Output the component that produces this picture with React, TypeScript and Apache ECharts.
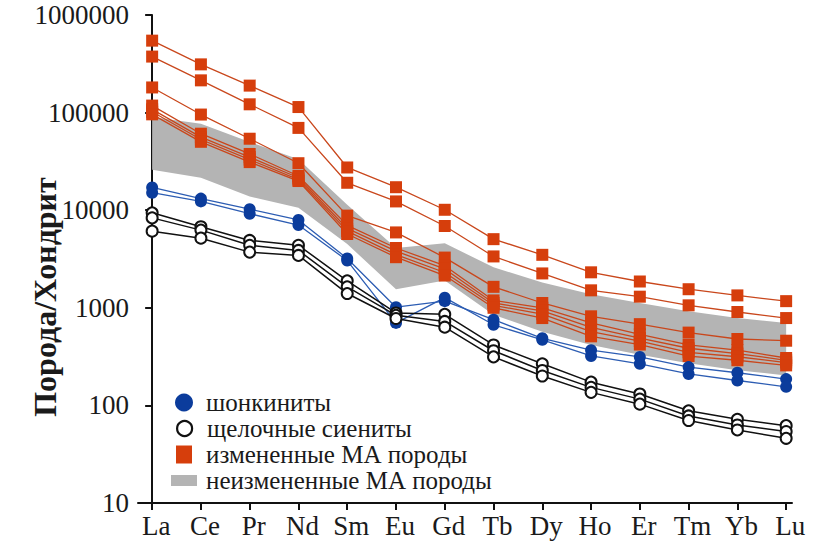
import React, { useEffect, useRef } from 'react';
import * as echarts from 'echarts';

const elements = ['La', 'Ce', 'Pr', 'Nd', 'Sm', 'Eu', 'Gd', 'Tb', 'Dy', 'Ho', 'Er', 'Tm', 'Yb', 'Lu'];
const yTicks = [10, 100, 1000, 10000, 100000, 1000000];

// шонкиниты
const shonk1 = [17100, 13150, 10250, 7940, 3200, 1015, 1170, 755, 487, 368, 314, 247, 216, 186];
const shonk2 = [15100, 12300, 9200, 7050, 3050, 700, 1270, 670, 470, 321, 267, 210, 180, 155];

// щелочные сиениты
const syen1 = [9400, 6770, 4900, 4370, 1890, 885, 857, 416, 267, 173, 131, 88, 72, 62];
const syen2 = [8340, 6250, 4370, 3870, 1640, 837, 725, 363, 228, 153, 116, 78, 63, 54];
const syen3 = [6100, 5170, 3720, 3440, 1400, 777, 633, 314, 200, 136, 103, 70, 56, 46];

// измененные МА породы
const alt1 = [546000, 312000, 189000, 114000, 27400, 17200, 10100, 5050, 3490, 2310, 1860, 1550, 1340, 1170];
const alt2 = [375000, 214000, 121600, 69700, 19100, 12300, 6890, 3360, 2250, 1510, 1300, 1060, 906, 785];
const alt3 = [181000, 95500, 54000, 30300, 8800, 5920, 3270, 1640, 1120, 818, 680, 557, 479, 460];
const alt4 = [118000, 60800, 37700, 22400, 7000, 4100, 2700, 1190, 1000, 700, 535, 416, 368, 306];
const alt5 = [108000, 56000, 35000, 21500, 6500, 3800, 2500, 1120, 930, 630, 490, 385, 340, 290];
const alt6 = [102000, 53000, 33000, 20600, 6100, 3500, 2300, 1060, 860, 570, 455, 350, 315, 275];
const alt7 = [96000, 50200, 31100, 19900, 5700, 3300, 2140, 1000, 785, 510, 420, 320, 290, 257];

// неизмененные МА породы (field)
const unaltUpper = [90000, 77000, 50000, 33300, 11400, 4100, 4580, 2600, 1820, 1380, 1120, 923, 785, 697];
const unaltLower = [26000, 21500, 13800, 10600, 4500, 1550, 1900, 850, 570, 415, 330, 270, 229, 203];

const NAME_SHONK = 'шонкиниты';
const NAME_SYEN = 'щелочные сиениты';
const NAME_ALT = 'измененные МА породы';
const NAME_UNALT = 'неизмененные МА породы';

const BLUE = '#0b3c9c';
const BLUE_LINE = '#2d5db3';
const RED = '#d63e0c';
const RED_LINE = '#c9471c';
const GRAY = '#b4b4b4';
const FONT = 'Liberation Serif';

const toData = (vals: number[]) => vals.map((v, i) => [i, v]);

function lineSeries(name: string, vals: number[], kind: 'blue' | 'black' | 'red') {
  const base: any = {
    name,
    type: 'line',
    data: toData(vals),
    symbolSize: 12,
    z: 3,
  };
  if (kind === 'blue') {
    base.symbol = 'circle';
    base.itemStyle = { color: BLUE };
    base.lineStyle = { color: BLUE_LINE, width: 1.3 };
  } else if (kind === 'black') {
    base.symbol = 'circle';
    base.symbolSize = 11;
    base.itemStyle = { color: '#ffffff', borderColor: '#111111', borderWidth: 2 };
    base.lineStyle = { color: '#111111', width: 1.5 };
  } else {
    base.symbol = 'rect';
    base.itemStyle = { color: RED };
    base.lineStyle = { color: RED_LINE, width: 1.3 };
    base.z = 2;
  }
  return base;
}

const idx = elements.map((_, i) => i);

const textBase = { fontFamily: FONT, fontSize: 27, color: '#1a1a1a' };

function legendItem(name: string, icon: string, itemStyle: any, left: number, top: number, w: number, h: number, padLeft: number) {
  return {
    data: [{ name, icon, itemStyle }],
    left,
    top,
    itemWidth: w,
    itemHeight: h,
    padding: 0,
    selectedMode: false,
    textStyle: { fontFamily: FONT, fontSize: 25, color: '#1a1a1a', lineHeight: 25, padding: [0, 0, 0, padLeft] },
  };
}

export default function App() {
  const ref = useRef<HTMLDivElement>(null);
  useEffect(() => {
    const chart = echarts.init(ref.current!, null, { renderer: 'svg' });
    const option: any = {
      animation: false,
      backgroundColor: '#ffffff',
      grid: { left: 138, right: 40, top: 15, bottom: 41 },
      xAxis: {
        type: 'value',
        min: -0.29,
        max: 13.12,
        axisLine: { show: true, lineStyle: { color: '#111', width: 2 } },
        axisTick: { show: true, customValues: idx, length: 7, lineStyle: { color: '#111', width: 2 } },
        axisLabel: {
          customValues: idx,
          formatter: (v: number) => elements[Math.round(v)] ?? '',
          margin: 9,
          padding: [0, 0, 0, 8],
          ...textBase,
        },
        splitLine: { show: false },
      },
      yAxis: {
        type: 'log',
        logBase: 10,
        min: yTicks[0],
        max: yTicks[yTicks.length - 1],
        axisLine: { show: true, lineStyle: { color: '#111', width: 2 } },
        axisTick: { show: true, length: 7, lineStyle: { color: '#111', width: 2 } },
        minorTick: { show: false },
        axisLabel: {
          formatter: (v: number) => String(Math.round(v)),
          margin: 9,
          ...textBase,
        },
        splitLine: { show: false },
      },
      legend: [
        legendItem(NAME_SHONK, 'circle', { color: BLUE }, 175, 390, 18, 18, 8),
        legendItem(NAME_SYEN, 'circle', { color: '#fff', borderColor: '#111', borderWidth: 2.2 }, 176, 416, 15, 15, 10),
        legendItem(NAME_ALT, 'rect', { color: RED }, 176, 442, 16, 18, 9),
        legendItem(NAME_UNALT, 'rect', { color: GRAY }, 171, 468, 26, 11, 4),
      ],
      graphic: [
        {
          type: 'text',
          x: 45,
          y: 297,
          rotation: Math.PI / 2,
          style: {
            text: 'Порода/Хондрит',
            font: 'bold 32px Liberation Serif',
            fill: '#1a1a1a',
            textAlign: 'center',
            textVerticalAlign: 'middle',
          },
        },
      ],
      series: [
        {
          name: NAME_UNALT,
          type: 'custom',
          z: 1,
          itemStyle: { color: GRAY },
          data: elements.map((_, i) => [i, unaltLower[i], unaltUpper[i]]),
          encode: { x: 0, y: [1, 2] },
          renderItem: (params: any, api: any) => {
            if (params.dataIndex !== 0) return { type: 'group', children: [] };
            const pts: number[][] = [];
            for (let i = 0; i < unaltUpper.length; i++) pts.push(api.coord([i, unaltUpper[i]]));
            for (let i = unaltLower.length - 1; i >= 0; i--) pts.push(api.coord([i, unaltLower[i]]));
            return { type: 'polygon', shape: { points: pts }, style: { fill: GRAY } };
          },
        },
        lineSeries(NAME_ALT, alt1, 'red'),
        lineSeries(NAME_ALT, alt2, 'red'),
        lineSeries(NAME_ALT, alt3, 'red'),
        lineSeries(NAME_ALT, alt4, 'red'),
        lineSeries(NAME_ALT, alt5, 'red'),
        lineSeries(NAME_ALT, alt6, 'red'),
        lineSeries(NAME_ALT, alt7, 'red'),
        lineSeries(NAME_SHONK, shonk1, 'blue'),
        lineSeries(NAME_SHONK, shonk2, 'blue'),
        lineSeries(NAME_SYEN, syen1, 'black'),
        lineSeries(NAME_SYEN, syen2, 'black'),
        lineSeries(NAME_SYEN, syen3, 'black'),
      ],
    };
    chart.setOption(option);
    return () => chart.dispose();
  }, []);
  return <div ref={ref} style={{ position: 'fixed', left: 0, top: 0, width: 832, height: 544 }} />;
}
